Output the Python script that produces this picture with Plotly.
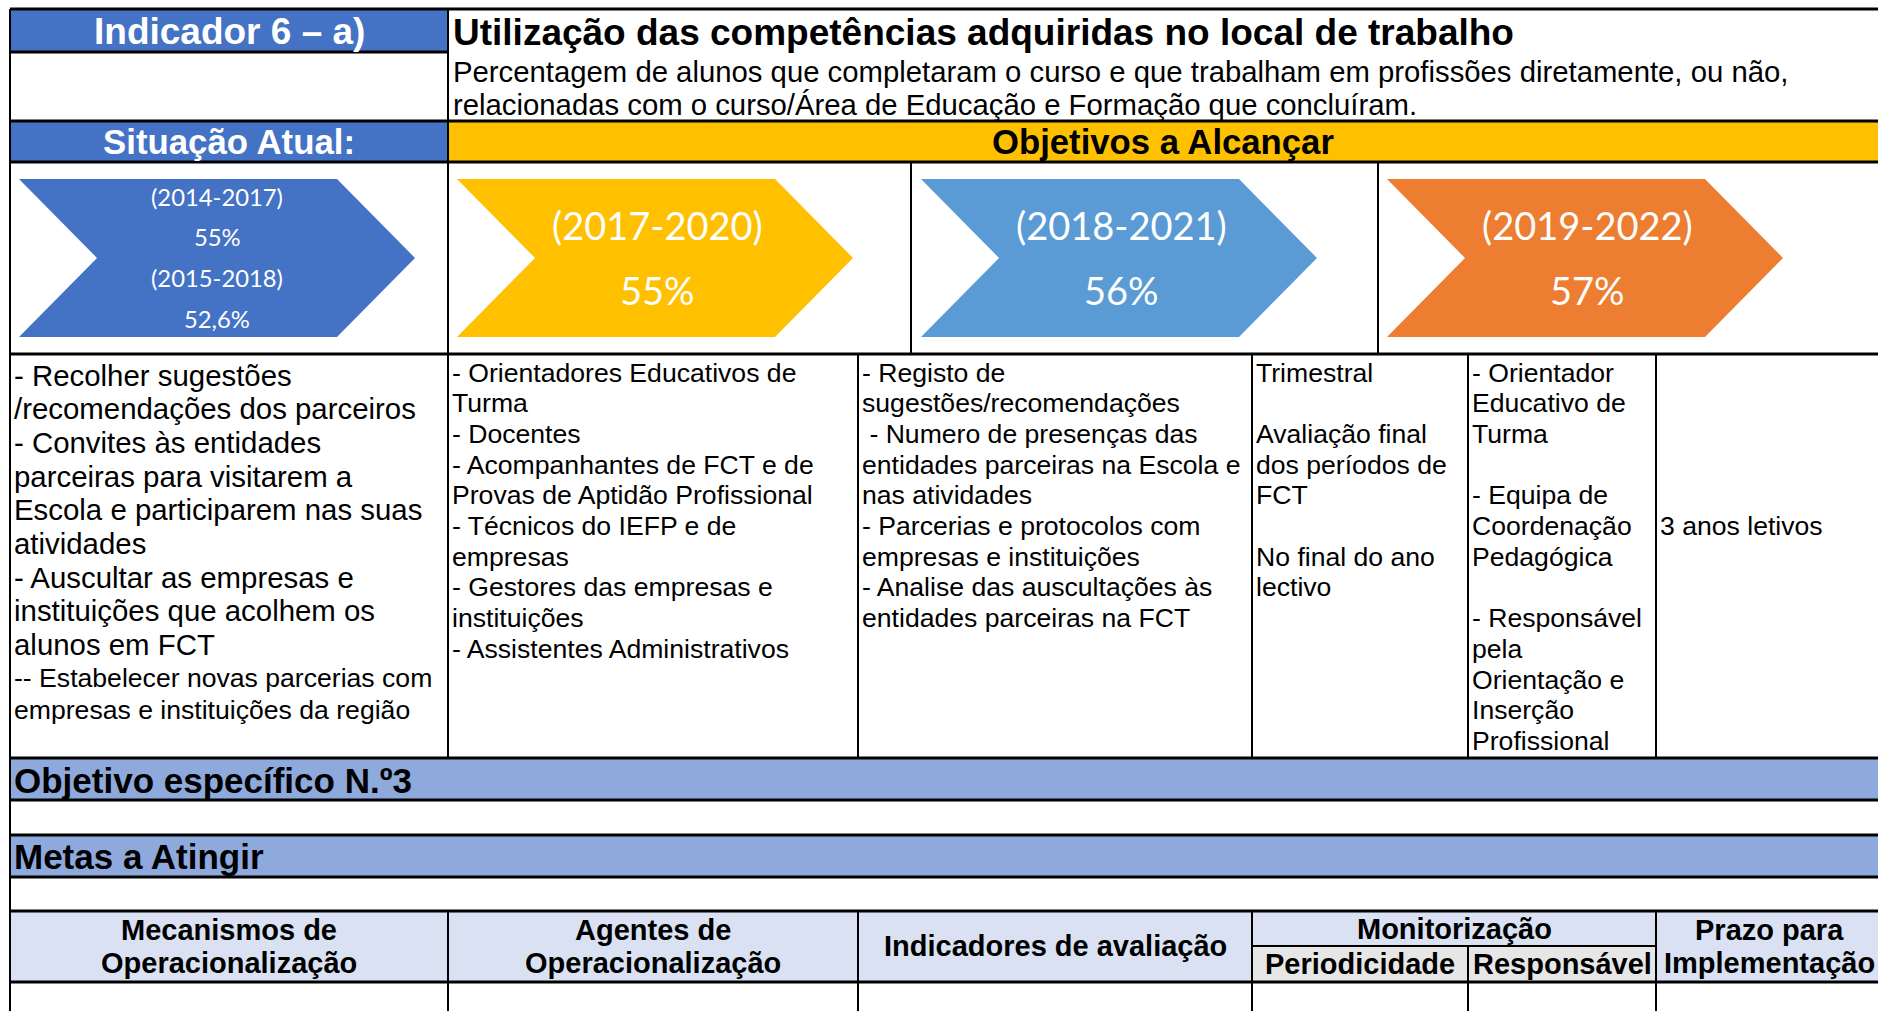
import plotly.graph_objects as go

# ---------------- data / text content ----------------
indicator_label = "Indicador 6 – a)"
title_text = "Utilização das competências adquiridas no local de trabalho"
subtitle_lines = [
    "Percentagem de alunos que completaram o curso e que trabalham em profissões diretamente, ou não,",
    "relacionadas com o curso/Área de Educação e Formação que concluíram.",
]
situacao_label = "Situação Atual:"
objetivos_label = "Objetivos a Alcançar"

current_periods = ["(2014-2017)", "(2015-2018)"]
current_values = ["55%", "52,6%"]
target_periods = ["(2017-2020)", "(2018-2021)", "(2019-2022)"]
target_values = ["55%", "56%", "57%"]

mecanismos_lines = [
    "- Recolher sugestões",
    "/recomendações dos parceiros",
    "- Convites às entidades",
    "parceiras para visitarem a",
    "Escola e participarem nas suas",
    "atividades",
    "- Auscultar as empresas e",
    "instituições que acolhem os",
    "alunos em FCT",
]
mecanismos_extra = [
    "-- Estabelecer novas parcerias com",
    "empresas e instituições da região",
]
agentes_lines = [
    "- Orientadores Educativos de",
    "Turma",
    "- Docentes",
    "- Acompanhantes de FCT e de",
    "Provas de Aptidão Profissional",
    "- Técnicos do IEFP e de",
    "empresas",
    "- Gestores das empresas e",
    "instituições",
    "- Assistentes Administrativos",
]
indicadores_lines = [
    "- Registo de",
    "sugestões/recomendações",
    " - Numero de presenças das",
    "entidades parceiras na Escola e",
    "nas atividades",
    "- Parcerias e protocolos com",
    "empresas e instituições",
    "- Analise das auscultações às",
    "entidades parceiras na FCT",
]
periodicidade_lines = [
    "Trimestral", "", "Avaliação final", "dos períodos de", "FCT", "",
    "No final do ano", "lectivo",
]
responsavel_lines = [
    "- Orientador", "Educativo de", "Turma", "", "- Equipa de", "Coordenação",
    "Pedagógica", "", "- Responsável", "pela", "Orientação e", "Inserção",
    "Profissional",
]
prazo_lines = ["", "", "", "", "", "3 anos letivos"]

objetivo_label = "Objetivo específico N.º3"
metas_label = "Metas a Atingir"
header_labels = [
    ["Mecanismos de", "Operacionalização"],
    ["Agentes de", "Operacionalização"],
    ["Indicadores de avaliação"],
]
monitor_label = "Monitorização"
monitor_sub = ["Periodicidade", "Responsável"]
prazo_header = ["Prazo para", "Implementação"]

# ---------------- layout geometry ----------------
W, H = 1878, 1011
XL, XR = 10, 1878
X1 = 448
COLS = [10, 448, 858, 1252, 1468, 1656, 1878]
CHEV_DIV = [911, 1378]
Y = dict(top=9, ind=52, sit=121, chev=162, body=354, obj=758, obj2=800,
         metas=835, metas2=877, head=911, split=946, head2=982)

ARIAL = "Liberation Sans, Arial, sans-serif"
CAL = "Lato, Carlito, Calibri, sans-serif"
BLUE = "#4472C4"
YELLOW = "#FFC000"
LBLUE = "#5B9BD5"
ORANGE = "#ED7D31"
BAND = "#8EA9DB"
HEAD = "#D9E1F2"
SUBHEAD = "#E7E6E6"

fig = go.Figure()
shapes = []
annotations = []


def rect(x0, x1, y0, y1, color):
    shapes.append(dict(type="rect", xref="x", yref="y", x0=x0, x1=x1, y0=y0, y1=y1,
                       fillcolor=color, line=dict(width=0), layer="below"))


def hline(y, x0=XL, x1=XR, w=3):
    shapes.append(dict(type="line", xref="x", yref="y", x0=x0, x1=x1, y0=y, y1=y,
                       line=dict(color="black", width=w)))


def vline(x, y0, y1, w=2):
    shapes.append(dict(type="line", xref="x", yref="y", x0=x, x1=x, y0=y0, y1=y1,
                       line=dict(color="black", width=w)))


def text(x, y, s, size, color="black", anchor="left", bold=False, family=ARIAL):
    if bold:
        s = "<b>" + s + "</b>"
    annotations.append(dict(x=x, y=y, xref="x", yref="y", text=s, showarrow=False,
                            xanchor=anchor, yanchor="middle", borderpad=0,
                            font=dict(family=family, size=size, color=color)))


# fills
rect(XL, X1, Y["top"], Y["ind"], BLUE)
rect(XL, X1, Y["sit"], Y["chev"], BLUE)
rect(X1, XR, Y["sit"], Y["chev"], YELLOW)
rect(XL, XR, Y["obj"], Y["obj2"], BAND)
rect(XL, XR, Y["metas"], Y["metas2"], BAND)
rect(XL, XR, Y["head"], Y["head2"], HEAD)
rect(COLS[3], COLS[5], Y["split"], Y["head2"], SUBHEAD)

# chevrons
chev_left = [19, 457, 921, 1387]
chev_colors = [BLUE, YELLOW, LBLUE, ORANGE]
CW, CN, CT, CB = 396, 78, 179, 337
for x0, col in zip(chev_left, chev_colors):
    xm = (CT + CB) / 2
    path = (f"M {x0},{CT} L {x0 + CW - CN},{CT} L {x0 + CW},{xm} L {x0 + CW - CN},{CB} "
            f"L {x0},{CB} L {x0 + CN},{xm} Z")
    shapes.append(dict(type="path", xref="x", yref="y", path=path, fillcolor=col,
                       line=dict(width=0), layer="below"))

# borders
hline(Y["top"])
hline(Y["ind"], XL, X1)
for k in ["sit", "chev", "body", "obj", "obj2", "metas", "metas2", "head", "head2"]:
    hline(Y[k])
hline(Y["split"], COLS[3], COLS[5], w=2)
vline(XL, Y["top"], H)
vline(X1, Y["top"], Y["obj"])
for x in CHEV_DIV:
    vline(x, Y["chev"], Y["body"])
for x in COLS[2:6]:
    vline(x, Y["body"], Y["obj"])
for x in [COLS[1], COLS[2], COLS[3], COLS[5]]:
    vline(x, Y["head"], H)
vline(COLS[4], Y["split"], H)

# header texts
text((XL + X1) / 2, 31, indicator_label, 37, "white", "center", True)
text(452, 32, title_text, 37, "black", "left", True)
text(452, 71, subtitle_lines[0], 29.3)
text(452, 104, subtitle_lines[1], 29.3)
text((XL + X1) / 2, 141.5, situacao_label, 34.8, "white", "center", True)
text((X1 + XR) / 2, 141.5, objetivos_label, 34.7, "black", "center", True)

# chevron texts
cur_lines = []
for p, v in zip(current_periods, current_values):
    cur_lines += [p, v]
cur_y = [197, 237, 278, 319]
for s, yy in zip(cur_lines, cur_y):
    text(chev_left[0] + CW / 2, yy, s, 23.8, "white", "center", family=CAL)
for x0, p, v in zip(chev_left[1:], target_periods, target_values):
    text(x0 + CW / 2 + 2, 225, p, 38, "white", "center", family=CAL)
    text(x0 + CW / 2 + 2, 290, v, 38, "white", "center", family=CAL)

# body columns
for i, s in enumerate(mecanismos_lines):
    text(13, 375 + i * 33.7, s, 29.4)
for i, s in enumerate(mecanismos_extra):
    text(13, 678 + i * 32, s, 26.6)
BASE, STEP = 372.5, 30.7
for colx, lines in zip([COLS[1], COLS[2], COLS[3], COLS[4], COLS[5]],
                       [agentes_lines, indicadores_lines, periodicidade_lines,
                        responsavel_lines, prazo_lines]):
    for i, s in enumerate(lines):
        if s:
            text(colx + 3, BASE + i * STEP, s, 26.6)

# section bands
text(13, 780, objetivo_label, 35, bold=True)
text(13, 856, metas_label, 35, bold=True)

# table header
for j, lab in enumerate(header_labels):
    cx = (COLS[j] + COLS[j + 1]) / 2
    if len(lab) == 2:
        text(cx, 929.5, lab[0], 29, anchor="center", bold=True)
        text(cx, 963, lab[1], 29, anchor="center", bold=True)
    else:
        text(cx, 946, lab[0], 29, anchor="center", bold=True)
text((COLS[3] + COLS[5]) / 2, 929, monitor_label, 29, anchor="center", bold=True)
text((COLS[3] + COLS[4]) / 2, 964, monitor_sub[0], 29, anchor="center", bold=True)
text((COLS[4] + COLS[5]) / 2, 964, monitor_sub[1], 29, anchor="center", bold=True)
text((COLS[5] + COLS[6]) / 2 + 2, 929.5, prazo_header[0], 29, anchor="center", bold=True)
text((COLS[5] + COLS[6]) / 2 + 2, 963, prazo_header[1], 29, anchor="center", bold=True)

fig.update_layout(
    width=W, height=H, margin=dict(l=0, r=0, t=0, b=0),
    paper_bgcolor="white", plot_bgcolor="white",
    xaxis=dict(range=[0, W], visible=False, fixedrange=True),
    yaxis=dict(range=[H, 0], visible=False, fixedrange=True),
    shapes=shapes, annotations=annotations, showlegend=False,
)

fig.write_html("out.html", config={"displayModeBar": False},
               post_script="document.body.style.margin='0';document.body.style.overflow='hidden';")
